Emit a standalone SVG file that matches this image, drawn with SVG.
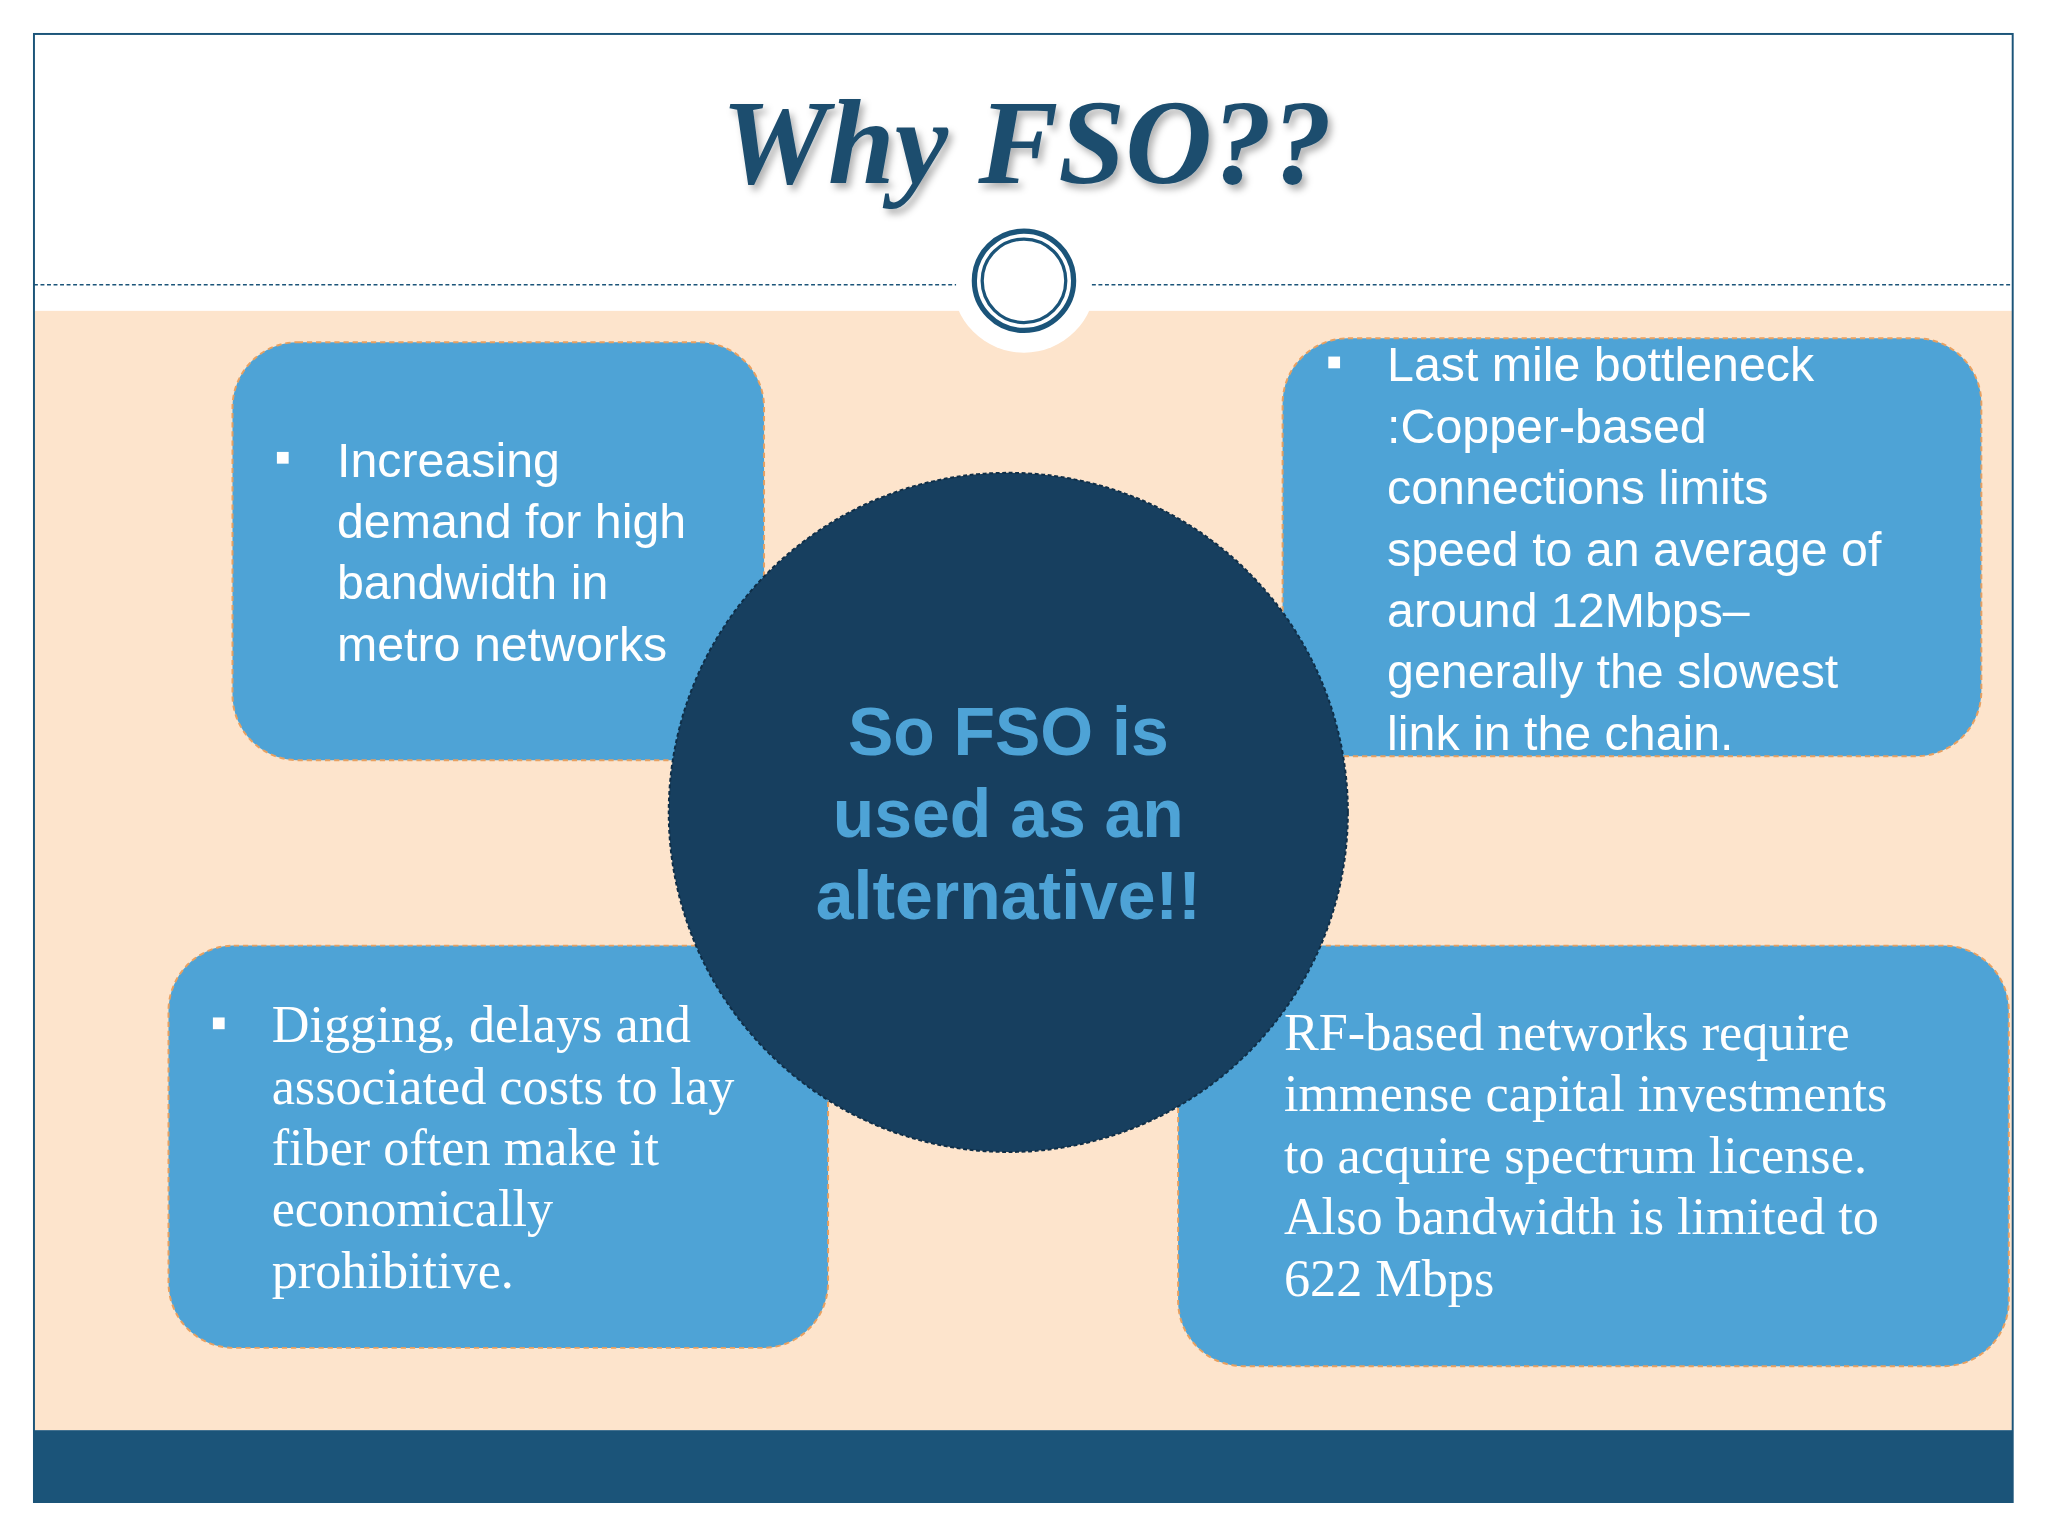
<svg xmlns="http://www.w3.org/2000/svg" width="2048" height="1536" viewBox="0 0 2048 1536">
<defs>
<style>
.box{fill:#4EA3D6;stroke:#E8A060;stroke-width:1.5;stroke-dasharray:4 3}
.t{fill:#fff;font-family:"Liberation Sans",Arial,sans-serif;font-size:37px}
.s{fill:#fff;font-family:"Liberation Serif","Times New Roman",serif;font-size:40px}
.c{fill:#4EA3D6;font-family:"Liberation Sans",Arial,sans-serif;font-size:52px;font-weight:bold;text-anchor:middle}
</style>
<filter id="sh"><feDropShadow dx="3" dy="4" stdDeviation="3" flood-color="#000" flood-opacity="0.3"/></filter>
</defs>
<rect width="2048" height="1536" fill="#fff"/>
<g transform="scale(1.3061)">
<rect x="26" y="238" width="1515" height="857" fill="#FDE4CC"/>
<rect x="26" y="1095" width="1515" height="55" fill="#1B5479"/>
<rect x="26" y="26" width="1515" height="1124" fill="none" stroke="#1B5479" stroke-width="1.5"/>
<g id="header">
<circle cx="784" cy="215" r="55" fill="#fff"/>
<line x1="26" y1="218" x2="732" y2="218" stroke="#1B5479" stroke-width="1.2" stroke-dasharray="3 2"/>
<line x1="836" y1="218" x2="1541" y2="218" stroke="#1B5479" stroke-width="1.2" stroke-dasharray="3 2"/>
<circle cx="784" cy="215" r="38" fill="#fff" stroke="#1B5479" stroke-width="4"/>
<circle cx="784" cy="215" r="32" fill="none" stroke="#1B5479" stroke-width="2.5"/>
<text x="786" y="140" text-anchor="middle" filter="url(#sh)" fill="#1F4E6E" font-family="Liberation Serif,serif" font-style="italic" font-weight="bold" font-size="92">Why FSO??</text>
</g>
<g id="box1"><rect class="box" x="178" y="262" width="407" height="320" rx="50"/></g>
<g id="box2"><rect class="box" x="982" y="259" width="535" height="320" rx="50"/></g>
<g id="box3"><rect class="box" x="129" y="724" width="505" height="308" rx="50"/></g>
<g id="box4"><rect class="box" x="902" y="724" width="636" height="322" rx="50"/></g>
<g id="center">
<circle cx="772" cy="622" r="260" fill="#173F5F" stroke="#0f2e47" stroke-width="1.5" stroke-dasharray="3 2"/>
<text class="c" x="772" y="578">So FSO is</text>
<text class="c" x="772" y="641">used as an</text>
<text class="c" x="772" y="704">alternative!!</text>
</g>
<g id="text1" class="t">
<rect x="212" y="346" width="9" height="9" fill="#fff"/>
<text x="258" y="365">Increasing</text><text x="258" y="412">demand for high</text><text x="258" y="459">bandwidth in</text><text x="258" y="506">metro networks</text>
</g>
<g id="text2" class="t">
<rect x="1017" y="273" width="9" height="9" fill="#fff"/>
<text x="1062" y="292">Last mile bottleneck</text><text x="1062" y="339">:Copper-based</text><text x="1062" y="386">connections limits</text><text x="1062" y="433">speed to an average of</text><text x="1062" y="480">around 12Mbps–</text><text x="1062" y="527">generally the slowest</text><text x="1062" y="574">link in the chain.</text>
</g>
<g id="text3" class="s">
<rect x="163" y="779" width="9" height="9" fill="#fff"/>
<text x="208" y="798">Digging, delays and</text><text x="208" y="845">associated costs to lay</text><text x="208" y="892">fiber often make it</text><text x="208" y="939">economically</text><text x="208" y="986">prohibitive.</text>
</g>
<g id="text4" class="s">
<text x="983" y="804">RF-based networks require</text><text x="983" y="851">immense capital investments</text><text x="983" y="898">to acquire spectrum license.</text><text x="983" y="945">Also bandwidth is limited to</text><text x="983" y="992">622 Mbps</text>
</g>
<g id="connectors"/>
</g>
</svg>
